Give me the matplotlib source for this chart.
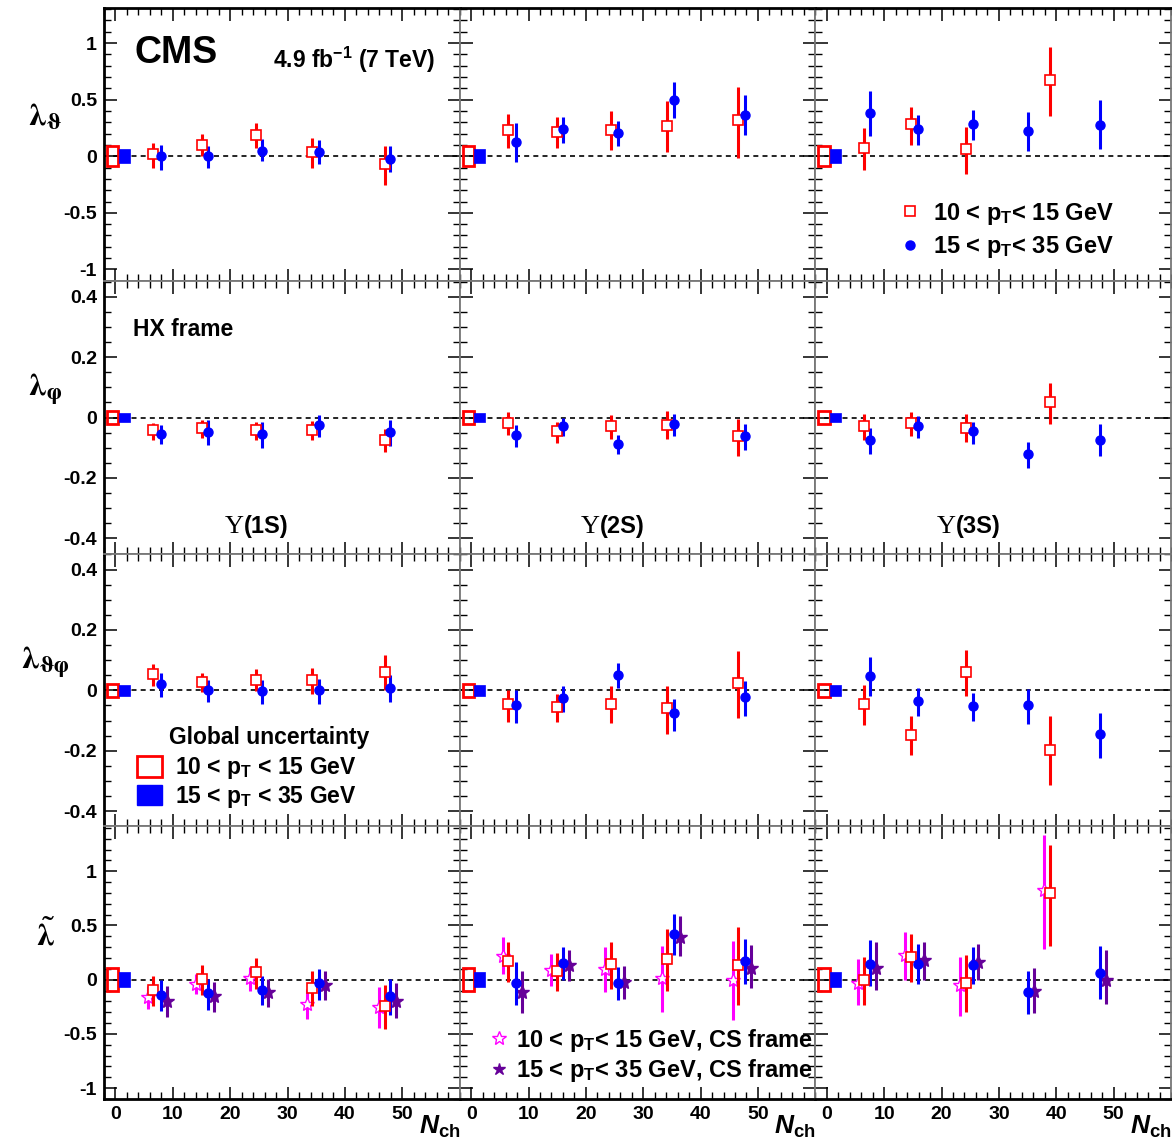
import matplotlib
matplotlib.use("Agg")
import matplotlib.pyplot as plt
import matplotlib.patches as mpatches
from matplotlib.lines import Line2D
from matplotlib.ticker import MultipleLocator, FixedLocator, FuncFormatter
from matplotlib.offsetbox import TextArea, HPacker, AnnotationBbox

plt.rcParams['font.family'] = ['Liberation Sans', 'DejaVu Sans']
plt.rcParams['font.weight'] = 'bold'
plt.rcParams['mathtext.fontset'] = 'custom'
plt.rcParams['mathtext.rm'] = 'Liberation Sans:bold'
plt.rcParams['mathtext.it'] = 'Liberation Sans:italic:bold'
plt.rcParams['mathtext.bf'] = 'Liberation Sans:bold'

# Nch positions of the points, one list per Upsilon state
nch_pt1 = [[6.6, 15.0, 24.5, 34.3, 46.9],
           [6.5, 14.9, 24.4, 34.2, 46.6],
           [6.4, 14.7, 24.3, 38.9]]
nch_pt2 = [[8.0, 16.2, 25.6, 35.5, 47.9],
           [7.9, 16.1, 25.6, 35.4, 47.7],
           [7.6, 15.9, 25.4, 35.1, 47.6]]
cs_shift = 1.0  # CS frame points are drawn next to the HX ones

states = ['(1S)', '(2S)', '(3S)']

# (value, lower end, upper end) per Nch bin, per state
lth_pt1 = [[(0.02, -0.10, 0.12), (0.10, 0.0, 0.20), (0.19, 0.07, 0.29), (0.035, -0.10, 0.16), (-0.07, -0.25, 0.09)],
           [(0.235, 0.074, 0.376), (0.215, 0.074, 0.344), (0.232, 0.053, 0.397), (0.268, 0.035, 0.485), (0.318, -0.015, 0.612)],
           [(0.074, -0.118, 0.25), (0.282, 0.097, 0.438), (0.065, -0.156, 0.259), (0.67, 0.359, 0.962)]]
lth_pt2 = [[(0.0, -0.12, 0.10), (0.0, -0.10, 0.09), (0.05, -0.04, 0.15), (0.04, -0.07, 0.14), (-0.02, -0.14, 0.09)],
           [(0.124, -0.05, 0.29), (0.238, 0.118, 0.347), (0.206, 0.088, 0.315), (0.5, 0.338, 0.653), (0.365, 0.185, 0.538)],
           [(0.382, 0.182, 0.574), (0.244, 0.103, 0.368), (0.285, 0.144, 0.412), (0.22, 0.044, 0.388), (0.279, 0.068, 0.5)]]

lph_pt1 = [[(-0.042, -0.075, -0.017), (-0.034, -0.066, -0.009), (-0.040, -0.074, -0.013), (-0.040, -0.075, -0.011), (-0.074, -0.114, -0.039)],
           [(-0.018, -0.057, 0.017), (-0.046, -0.084, -0.013), (-0.029, -0.072, 0.009), (-0.024, -0.072, 0.022), (-0.062, -0.127, -0.006)],
           [(-0.028, -0.075, 0.011), (-0.019, -0.061, 0.019), (-0.033, -0.081, 0.011), (0.051, -0.02, 0.113)]]
lph_pt2 = [[(-0.054, -0.088, -0.024), (-0.048, -0.091, -0.008), (-0.054, -0.10, -0.013), (-0.025, -0.064, 0.008), (-0.049, -0.095, -0.008)],
           [(-0.057, -0.097, -0.024), (-0.027, -0.062, 0.0), (-0.086, -0.122, -0.057), (-0.020, -0.06, 0.013), (-0.062, -0.107, -0.02)],
           [(-0.074, -0.119, -0.033), (-0.029, -0.069, 0.006), (-0.046, -0.086, -0.014), (-0.12, -0.168, -0.081), (-0.073, -0.126, -0.022)]]

ltp_pt1 = [[(0.053, 0.014, 0.088), (0.029, -0.006, 0.057), (0.035, -0.003, 0.071), (0.034, -0.011, 0.074), (0.061, 0.0, 0.118)],
           [(-0.046, -0.104, 0.002), (-0.054, -0.105, -0.011), (-0.045, -0.108, 0.015), (-0.059, -0.144, 0.015), (0.024, -0.092, 0.129)],
           [(-0.044, -0.115, 0.018), (-0.147, -0.213, -0.085), (0.062, -0.019, 0.134), (-0.196, -0.315, -0.086)]]
ltp_pt2 = [[(0.02, -0.022, 0.059), (0.0, -0.04, 0.035), (-0.003, -0.044, 0.033), (0.0, -0.044, 0.039), (0.009, -0.04, 0.052)],
           [(-0.049, -0.107, 0.0), (-0.025, -0.071, 0.015), (0.052, 0.008, 0.092), (-0.076, -0.133, -0.029), (-0.023, -0.085, 0.032)],
           [(0.049, -0.019, 0.109), (-0.035, -0.085, 0.009), (-0.052, -0.103, -0.01), (-0.05, -0.112, 0.006), (-0.143, -0.224, -0.074)]]

ltil_pt1 = [[(-0.095, -0.24, 0.037), (0.006, -0.142, 0.138), (0.068, -0.083, 0.203), (-0.074, -0.243, 0.077), (-0.243, -0.452, -0.049)],
            [(0.171, -0.021, 0.349), (0.083, -0.104, 0.245), (0.141, -0.089, 0.349), (0.187, -0.104, 0.465), (0.131, -0.235, 0.483)],
            [(0.0, -0.231, 0.209), (0.209, -0.022, 0.425), (-0.028, -0.295, 0.228), (0.8, 0.311, 1.246)]]
ltil_pt2 = [[(-0.142, -0.289, -0.006), (-0.123, -0.277, 0.009), (-0.095, -0.231, 0.031), (-0.031, -0.185, 0.098), (-0.148, -0.323, 0.006)],
            [(-0.031, -0.229, 0.159), (0.153, -0.003, 0.297), (-0.031, -0.19, 0.113), (0.419, 0.229, 0.602), (0.171, -0.04, 0.379)],
            [(0.142, -0.062, 0.363), (0.148, -0.037, 0.326), (0.135, -0.037, 0.302), (-0.117, -0.314, 0.08), (0.058, -0.182, 0.308)]]
ltil_cs_pt1 = [[(-0.16, -0.274, -0.058), (-0.037, -0.135, 0.049), (0.012, -0.108, 0.117), (-0.222, -0.36, -0.083), (-0.252, -0.443, -0.068)],
               [(0.22, 0.049, 0.394), (0.089, -0.061, 0.239), (0.098, -0.113, 0.3), (0.012, -0.297, 0.309), (-0.003, -0.376, 0.358)],
               [(-0.028, -0.234, 0.194), (0.225, 0.0, 0.44), (-0.052, -0.335, 0.209), (0.831, 0.28, 1.338)]]
ltil_cs_pt2 = [[(-0.197, -0.345, -0.062), (-0.151, -0.298, -0.018), (-0.117, -0.249, 0.009), (-0.052, -0.191, 0.08), (-0.194, -0.357, -0.034)],
               [(-0.113, -0.306, 0.083), (0.135, -0.009, 0.275), (-0.021, -0.174, 0.128), (0.394, 0.214, 0.584), (0.107, -0.076, 0.318)],
               [(0.111, -0.098, 0.348), (0.185, 0.0, 0.351), (0.166, -0.006, 0.332), (-0.108, -0.308, 0.111), (0.0, -0.225, 0.277)]]

# global uncertainty (half height of the boxes at Nch = 0), per row
glob_pt1 = [0.09, 0.022, 0.021, 0.108]
glob_pt2 = [0.063, 0.015, 0.018, 0.069]

ylabels = [r'$\mathrm{\lambda}_{\mathrm{\vartheta}}$', r'$\mathrm{\lambda}_{\mathrm{\varphi}}$',
           r'$\mathrm{\lambda}_{\mathrm{\vartheta\varphi}}$', r'$\tilde{\mathrm{\lambda}}$']
ylims = [(-1.1, 1.31), (-0.45, 0.453), (-0.45, 0.453), (-1.1, 1.415)]
ymajor = [0.5, 0.2, 0.2, 0.5]
yminor = [0.1, 0.05, 0.05, 0.1]

RED = '#ff0000'
BLUE = '#0000ff'
MAG = '#ff00ff'
PURP = '#660099'


def draw(ax, x, pts, **kw):
    y = [p[0] for p in pts]
    dn = [p[0] - p[1] for p in pts]
    up = [p[2] - p[0] for p in pts]
    ax.errorbar(x, y, yerr=[dn, up], capsize=0, elinewidth=2.2, ls='none', **kw)


fig, axes = plt.subplots(4, 3, figsize=(11.72, 11.45), dpi=100)
fig.subplots_adjust(left=104 / 1172, right=1171 / 1172, top=1 - 8 / 1145,
                    bottom=1 - 1099 / 1145, wspace=0, hspace=0)

rows = [(lth_pt1, lth_pt2), (lph_pt1, lph_pt2), (ltp_pt1, ltp_pt2), (ltil_pt1, ltil_pt2)]
fmt = FuncFormatter(lambda v, p: ('%g' % round(v, 3)).replace('\u2212', '-'))

for r in range(4):
    for c in range(3):
        ax = axes[r, c]
        ax.set_xlim(-2, 60)
        ax.set_ylim(*ylims[r])
        ax.axhline(0, color='black', ls=(0, (3, 2.5)), lw=1.2, zorder=1)

        # global uncertainty boxes
        g1, g2 = glob_pt1[r], glob_pt2[r]
        ax.add_patch(mpatches.Rectangle((-1.5, -g1), 2.0, 2 * g1, fill=False, ec=RED, lw=2, zorder=3))
        ax.add_patch(mpatches.Rectangle((0.55, -g2), 1.9, 2 * g2, fc=BLUE, ec=BLUE, lw=0.5, zorder=3))

        p1, p2 = rows[r]
        if r == 3:
            draw(ax, [x - cs_shift for x in nch_pt1[c]], ltil_cs_pt1[c], fmt='*', ms=10,
                 mfc='white', mec=MAG, mew=1, color=MAG, zorder=4)
        draw(ax, nch_pt1[c], p1[c], fmt='s', ms=6.5, mfc='white', mec=RED, mew=1.2, color=RED, zorder=5)
        draw(ax, nch_pt2[c], p2[c], fmt='o', ms=6.5, mfc=BLUE, mec=BLUE, color=BLUE, zorder=5)
        if r == 3:
            draw(ax, [x + cs_shift for x in nch_pt2[c]], ltil_cs_pt2[c], fmt='*', ms=10,
                 mfc=PURP, mec=PURP, color=PURP, zorder=4)

        ax.xaxis.set_major_locator(FixedLocator([0, 10, 20, 30, 40, 50]))
        ax.xaxis.set_minor_locator(MultipleLocator(2))
        ax.yaxis.set_major_locator(MultipleLocator(ymajor[r]))
        ax.yaxis.set_minor_locator(MultipleLocator(yminor[r]))
        ax.yaxis.set_major_formatter(fmt)
        ax.tick_params(which='both', direction='in', top=True, right=True,
                       labelleft=(c == 0), labelbottom=(r == 3), labelsize=14, pad=5)
        ax.tick_params(which='major', length=9, width=1.1)
        ax.tick_params(which='minor', length=5, width=1.0)
        for lab in ax.get_xticklabels() + ax.get_yticklabels():
            lab.set_fontweight('bold')

        for s in ax.spines.values():
            s.set_color('#777777')
            s.set_linewidth(1.3)
        if c == 0:
            ax.spines['left'].set_color('black')
            ax.spines['left'].set_linewidth(2)
        if r == 0:
            ax.spines['top'].set_color('black')
            ax.spines['top'].set_linewidth(2)
        if r == 3:
            ax.spines['bottom'].set_color('black')
            ax.spines['bottom'].set_linewidth(2)
            ax.text(0.885, -0.055, r'$\mathit{N}_{\mathrm{ch}}$', transform=ax.transAxes,
                    ha='left', va='top', fontsize=19)

    axes[r, 0].text(-0.165, 0.6, ylabels[r], transform=axes[r, 0].transAxes,
                    ha='center', va='center', fontsize=23, fontweight='normal',
                    math_fontfamily='stix')

# texts
ax = axes[0, 0]
ax.text(0.085, 0.835, 'CMS', transform=ax.transAxes, fontsize=27, fontweight='bold', va='center')
ax.text(0.475, 0.81, r'4.9 fb$^{\mathrm{-1}}$ (7 TeV)', transform=ax.transAxes, fontsize=16.5,
        fontweight='bold', va='center')
axes[1, 0].text(0.082, 0.82, 'HX frame', transform=axes[1, 0].transAxes, fontsize=16.5,
                fontweight='bold', va='center')

for c in range(3):
    box = HPacker(children=[TextArea('\u03a5', textprops=dict(family='Liberation Serif', size=19, weight='normal')),
                            TextArea(states[c], textprops=dict(family='Liberation Sans', size=17, weight='bold'))],
                  pad=0, sep=0, align='baseline')
    ab = AnnotationBbox(box, (0.43, 0.10), xycoords='axes fraction', frameon=False,
                        box_alignment=(0.5, 0.5))
    axes[1, c].add_artist(ab)

# legend pT bins
h1 = Line2D([], [], ls='none', marker='s', ms=6.5, mfc='white', mec=RED, mew=1.2)
h2 = Line2D([], [], ls='none', marker='o', ms=6.5, mfc=BLUE, mec=BLUE)
axes[0, 2].legend([h1, h2], [r'10 < p$_{\mathrm{T}}$< 15 GeV', r'15 < p$_{\mathrm{T}}$< 35 GeV'],
                  loc='center left', bbox_to_anchor=(0.2, 0.185), frameon=False, fontsize=17,
                  handlelength=1.0, handletextpad=0.45, labelspacing=0.3, borderpad=0)

# global uncertainty legend
ax = axes[2, 0]
ax.text(0.465, 0.326, 'Global uncertainty', transform=ax.transAxes, ha='center', va='center',
        fontsize=16.5, fontweight='bold')
g1 = mpatches.Patch(fc='white', ec=RED, lw=2)
g2 = mpatches.Patch(fc=BLUE, ec=BLUE)
ax.legend([g1, g2], [r'10 < p$_{\mathrm{T}}$ < 15 GeV', r'15 < p$_{\mathrm{T}}$ < 35 GeV'],
          loc='center left', bbox_to_anchor=(0.06, 0.16), frameon=False, fontsize=16.5,
          handlelength=1.1, handleheight=1.0, handletextpad=0.55, labelspacing=0.12, borderpad=0)

# CS frame legend
s1 = Line2D([], [], ls='none', marker='*', ms=10, mfc='white', mec=MAG)
s2 = Line2D([], [], ls='none', marker='*', ms=9, mfc=PURP, mec=PURP)
axes[3, 1].legend([s1, s2], [r'10 < p$_{\mathrm{T}}$< 15 GeV, CS frame', r'15 < p$_{\mathrm{T}}$< 35 GeV, CS frame'],
                  loc='center left', bbox_to_anchor=(0.05, 0.16), frameon=False, fontsize=17,
                  handlelength=0.8, handletextpad=0.35, labelspacing=0.15, borderpad=0)

fig.savefig('out.png', dpi=100)
